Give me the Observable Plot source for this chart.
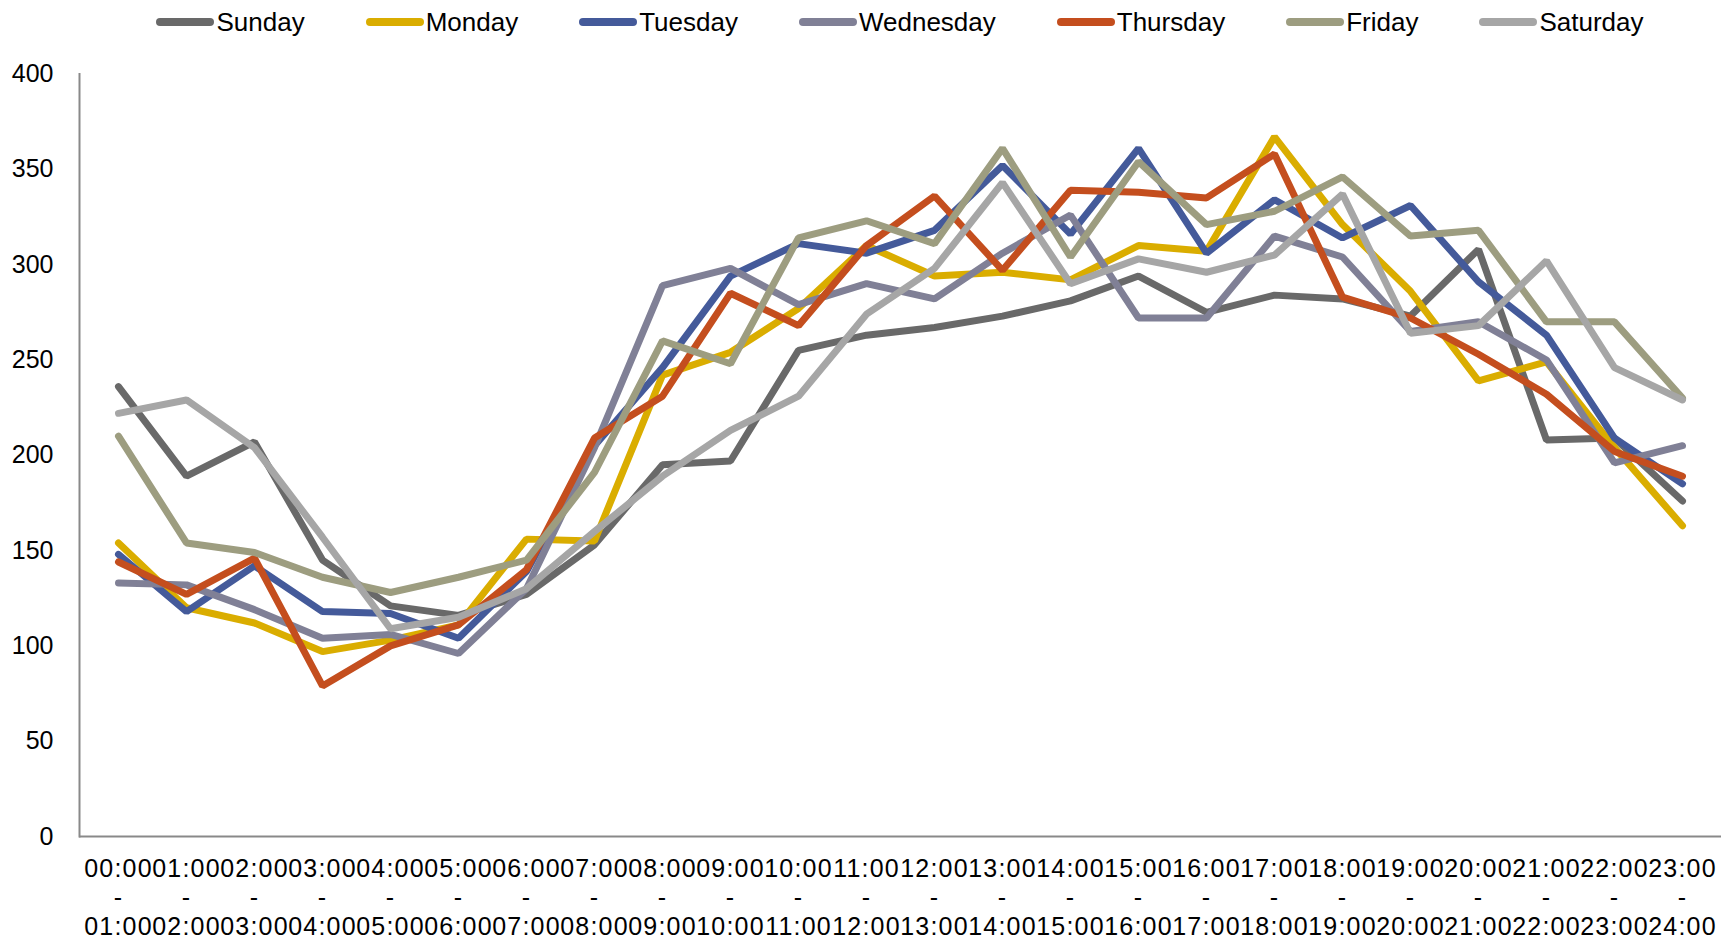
<!DOCTYPE html>
<html>
<head>
<meta charset="utf-8">
<script src="https://cdn.jsdelivr.net/npm/d3@7"></script>
<script src="https://cdn.jsdelivr.net/npm/@observablehq/plot@0.6"></script>
<style>
  html, body { margin: 0; padding: 0; background: #fff; }
  body { width: 1721px; height: 943px; overflow: hidden; font-family: "Liberation Sans", Arial, sans-serif; }
  #legend { height: 44px; display: flex; justify-content: center; align-items: center; padding-left: 79px; gap: 61px; box-sizing: border-box; width: 1721px; }
  .item { display: flex; align-items: center; gap: 2px; font-size: 26px; color: #000; }
  .item svg { display: block; }
  g[aria-label="x-axis tick label"] text { letter-spacing: 1.2px; }
</style>
</head>
<body>
<div id="legend"></div>
<div id="chart"></div>
<script>
const slots = ["00:00-01:00","01:00-02:00","02:00-03:00","03:00-04:00","04:00-05:00","05:00-06:00",
  "06:00-07:00","07:00-08:00","08:00-09:00","09:00-10:00","10:00-11:00","11:00-12:00",
  "12:00-13:00","13:00-14:00","14:00-15:00","15:00-16:00","16:00-17:00","17:00-18:00",
  "18:00-19:00","19:00-20:00","20:00-21:00","21:00-22:00","22:00-23:00","23:00-24:00"];
const days = ["Sunday","Monday","Tuesday","Wednesday","Thursday","Friday","Saturday"];
const colors = ["#696969","#DAAD00","#445A9A","#808096","#C44E1E","#9D9D80","#A6A6A6"];
const yTicks = [0,50,100,150,200,250,300,350,400];

const sunday    = [236,189,207,145,121,116,127,153,195,197,255,263,267,273,281,294,275,284,282,273,308,208,209,176];
const monday    = [154,120,112, 97,103,111,156,155,242,254,277,310,294,296,292,310,307,367,321,286,239,249,204,163];
const tuesday   = [148,118,142,118,117,104,139,205,246,294,311,306,318,352,316,361,306,334,314,331,291,263,209,185];
const wednesday = [133,132,119,104,106, 96,130,204,289,298,279,290,282,306,326,272,272,315,304,265,270,250,196,205];
const thursday  = [144,127,146, 79,100,111,140,209,231,285,268,310,336,297,339,338,335,358,283,272,253,232,202,189];
const friday    = [210,154,149,136,128,136,145,191,260,248,314,323,311,361,304,354,321,328,346,315,318,270,270,230];
const saturday  = [222,229,204,157,109,115,130,160,189,213,231,274,298,343,290,303,296,305,337,264,268,302,246,229];

const series = [sunday, monday, tuesday, wednesday, thursday, friday, saturday];
const data = days.flatMap((day, k) => series[k].map((v, i) => ({day, slot: slots[i], value: v})));

// Legend
const legend = document.getElementById("legend");
days.forEach((d, k) => {
  const item = document.createElement("div");
  item.className = "item";
  item.innerHTML = `<svg width="58" height="12"><line x1="4" x2="54" y1="6" y2="6" stroke="${colors[k]}" stroke-width="8" stroke-linecap="round"/></svg><span>${d}</span>`;
  legend.appendChild(item);
});

const axisColor = "#898989";
const chart = Plot.plot({
  width: 1721,
  height: 899,
  marginLeft: 79,
  marginRight: 0,
  marginTop: 29.5,
  marginBottom: 107,
  style: {fontFamily: "'Liberation Sans', Arial, sans-serif", fontSize: "25px", color: "#000", background: "#fff", overflow: "visible"},
  x: {type: "point", domain: slots, padding: 0.5, label: null},
  y: {domain: [0, 400], label: null},
  color: {domain: days, range: colors},
  marks: [
    Plot.frame({anchor: "left", stroke: axisColor, strokeWidth: 2}),
    Plot.ruleY([0], {stroke: axisColor, strokeWidth: 2}),
    Plot.line(data, {x: "slot", y: "value", z: "day", stroke: "day", strokeWidth: 7, strokeLinejoin: "miter", strokeLinecap: "round"}),
    Plot.axisY(yTicks, {tickSize: 0, tickPadding: 26, fontSize: 25, fill: "#000", label: null}),
    Plot.axisX({tickSize: 0, tickPadding: 20, fontSize: 25, fill: "#000", lineHeight: 1.16, label: null,
      tickFormat: d => d.replace("-", "\n-\n")})
  ]
});
document.getElementById("chart").appendChild(chart);
</script>
</body>
</html>
